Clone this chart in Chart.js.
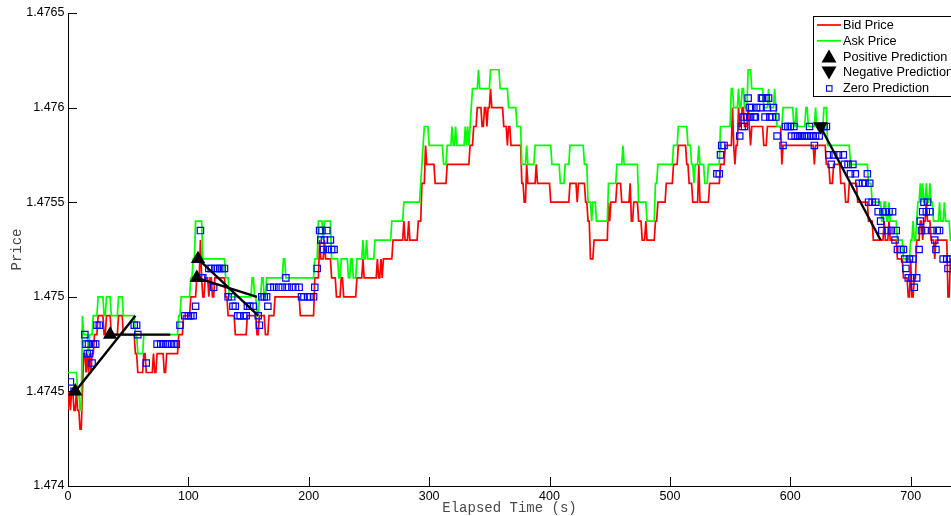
<!DOCTYPE html>
<html>
<head>
<meta charset="utf-8">
<title>Bid / Ask Price with Predictions</title>
<script src="https://cdn.jsdelivr.net/npm/chart.js@4.4.1/dist/chart.umd.min.js"></script>
<style>
  html, body { margin: 0; padding: 0; background: #ffffff; }
  canvas { display: block; }
</style>
</head>
<body>
<canvas id="c" width="951" height="516"></canvas>
<script>
// Bid quotes: [elapsed seconds at which the quote changes, new bid price]
const bidQuotes = [
  [0,1.4744],[1,1.4745],[2,1.4744],[3,1.4745],[5,1.4744],[7,1.4745],[8,1.4744],[10,1.4743],[12,1.4745],[13,1.4747],
  [15,1.4746],[16,1.4747],[17,1.4746],[18,1.4747],[19,1.4746],[20,1.4747],[22,1.4748],[25,1.4749],[30,1.4748],[32,1.4749],
  [36,1.4748],[42,1.4749],[46,1.4748],[56,1.4747],[58,1.4746],[63,1.4747],[65,1.4746],[71,1.4747],[72,1.4746],[74,1.4747],
  [80,1.4746],[82,1.4747],[92,1.4748],[96,1.4749],[102,1.4750],[107,1.4751],[110,1.4753],[111,1.4751],[112,1.4750],[114,1.4751],
  [117,1.4750],[118,1.4751],[120,1.4750],[122,1.4751],[131,1.4750],[133,1.4749],[139,1.4748],[149,1.4749],[157,1.4748],[159,1.4749],
  [164,1.4748],[167,1.4749],[172,1.4750],[193,1.4749],[205,1.4751],[209,1.4753],[210,1.4752],[213,1.4753],[214,1.4752],[219,1.4751],
  [223,1.4750],[227,1.4751],[229,1.4750],[240,1.4751],[245,1.4752],[246,1.4751],[257,1.4752],[258,1.4751],[260,1.4752],[261,1.4751],
  [262,1.4752],[270,1.4753],[279,1.4754],[280,1.4753],[283,1.4754],[284,1.4753],[291,1.4754],[294,1.4756],[297,1.4758],[298,1.4757],
  [305,1.4756],[315,1.4757],[334,1.4758],[337,1.4759],[340,1.4760],[344,1.4759],[346,1.4760],[348,1.4759],[349,1.4760],[351,1.4761],
  [352,1.4760],[362,1.4759],[365,1.4758],[366,1.4759],[368,1.4758],[377,1.4756],[379,1.4755],[381,1.4757],[382,1.4756],[389,1.4757],
  [390,1.4756],[401,1.4755],[417,1.4756],[423,1.4755],[424,1.4756],[430,1.4755],[432,1.4754],[434,1.4752],[437,1.4753],[449,1.4755],
  [450,1.4754],[451,1.4755],[456,1.4756],[460,1.4755],[467,1.4756],[468,1.4754],[470,1.4755],[474,1.4754],[477,1.4753],[480,1.4754],
  [481,1.4753],[488,1.4754],[490,1.4755],[497,1.4756],[503,1.4757],[507,1.4758],[514,1.4757],[516,1.4756],[519,1.4755],[524,1.4757],
  [525,1.4755],[533,1.4756],[542,1.4757],[546,1.4758],[552,1.4760],[553,1.4758],[554,1.4757],[555,1.4758],[557,1.4760],[558,1.4759],
  [560,1.4760],[562,1.4759],[565,1.4760],[566,1.4759],[567,1.4758],[568,1.4759],[578,1.4758],[581,1.4759],[593,1.4757],[594,1.4758],
  [620,1.4757],[621,1.4758],[630,1.4757],[633,1.4756],[636,1.4757],[642,1.4756],[646,1.4755],[649,1.4756],[656,1.4755],[665,1.4754],
  [669,1.4753],[678,1.4754],[679,1.4753],[682,1.4754],[683,1.4753],[689,1.4752],[694,1.4751],[698,1.4750],[700,1.4752],[701,1.4750],
  [703,1.4751],[705,1.4753],[708,1.4754],[710,1.4753],[711,1.4754],[713,1.4755],[714,1.4754],[717,1.4753],[720,1.4752],[721,1.4753],
  [731,1.4750],[733,1.4752]
];

// Ask quotes: [elapsed seconds at which the quote changes, new ask price]
const askQuotes = [
  [0,1.4746],[8,1.4745],[10,1.4744],[12,1.4749],[13,1.4748],[17,1.4747],[18,1.4748],[21,1.4749],[25,1.4750],[30,1.4749],
  [32,1.4750],[36,1.4749],[42,1.4750],[46,1.4749],[56,1.4748],[58,1.4747],[63,1.4748],[92,1.4749],[94,1.4750],[102,1.4751],
  [104,1.4752],[106,1.4754],[112,1.4752],[131,1.4751],[134,1.4750],[153,1.4751],[155,1.4750],[157,1.4749],[159,1.4750],[161,1.4751],
  [163,1.4750],[165,1.4751],[179,1.4752],[181,1.4751],[205,1.4752],[208,1.4754],[212,1.4753],[213,1.4754],[219,1.4752],[225,1.4751],
  [227,1.4752],[233,1.4751],[235,1.4752],[237,1.4751],[240,1.4752],[245,1.4753],[246,1.4752],[248,1.4753],[249,1.4752],[255,1.4753],
  [269,1.4754],[279,1.4755],[293,1.4756],[294,1.4757],[295,1.4758],[296,1.4759],[300,1.4758],[312,1.4757],[315,1.4758],[319,1.4759],
  [320,1.4758],[322,1.4759],[323,1.4758],[330,1.4759],[331,1.4758],[332,1.4759],[333,1.4758],[334,1.4759],[335,1.4760],[336,1.4761],
  [341,1.4762],[342,1.4761],[351,1.4762],[359,1.4761],[366,1.4760],[373,1.4759],[377,1.4757],[381,1.4758],[382,1.4757],[388,1.4758],
  [402,1.4757],[409,1.4756],[413,1.4757],[417,1.4758],[429,1.4757],[432,1.4755],[435,1.4754],[436,1.4755],[439,1.4754],[449,1.4756],
  [456,1.4757],[461,1.4758],[462,1.4757],[474,1.4755],[481,1.4754],[488,1.4756],[490,1.4757],[503,1.4758],[507,1.4759],[515,1.4758],
  [518,1.4757],[520,1.4756],[521,1.4757],[524,1.4758],[525,1.4757],[529,1.4756],[532,1.4757],[542,1.4759],[551,1.4761],[553,1.4760],
  [557,1.4761],[558,1.4760],[560,1.4761],[562,1.4760],[565,1.4762],[568,1.4761],[578,1.4760],[582,1.4761],[583,1.4760],[587,1.4761],
  [588,1.4760],[589,1.4759],[594,1.4760],[603,1.4759],[605,1.4760],[606,1.4759],[613,1.4760],[615,1.4759],[621,1.4760],[622,1.4759],
  [628,1.4760],[631,1.4758],[650,1.4757],[665,1.4756],[668,1.4755],[676,1.4754],[678,1.4755],[680,1.4754],[682,1.4755],[683,1.4754],
  [689,1.4753],[694,1.4752],[700,1.4753],[702,1.4754],[703,1.4753],[705,1.4754],[706,1.4755],[708,1.4756],[709,1.4755],[710,1.4756],
  [711,1.4755],[713,1.4756],[714,1.4755],[716,1.4756],[717,1.4755],[719,1.4754],[724,1.4755],[725,1.4754],[728,1.4755],[729,1.4754],
  [733,1.4753]
];

// Predictions that expect a rise: [issue time, price at issue, price 50 s later]
const positivePredictions = [
  [6, 1.4745, 1.4749],
  [35, 1.4748, 1.4748],
  [107, 1.4751, 1.4750],
  [108, 1.4752, 1.4749]
];

// Predictions that expect a fall: [issue time, price at issue, price 50 s later]
const negativePredictions = [
  [625, 1.4759, 1.4753]
];
const predictionHorizon = 50;

// Predictions of no change: [time, mid price]
const zeroPredictions = [
  [2,1.47455],[5,1.4745],[14,1.4748],[15,1.47475],[16,1.4747],[17,1.47475],[18,1.4747],[20,1.47465],[21,1.47475],[23,1.47475],
  [24,1.47485],[26,1.47485],[55,1.47485],[57,1.47485],[58,1.4748],[65,1.47465],[74,1.47475],[77,1.47475],[79,1.47475],[81,1.47475],
  [83,1.47475],[86,1.47475],[88,1.47475],[90,1.47475],[93,1.47485],[97,1.4749],[100,1.4749],[102,1.4749],[104,1.4749],[106,1.47495],
  [110,1.47535],[111,1.4751],[112,1.4751],[117,1.47515],[119,1.47515],[121,1.47505],[122,1.47515],[124,1.47515],[126,1.47515],[128,1.47515],
  [130,1.47515],[133,1.475],[136,1.475],[137,1.47495],[139,1.47495],[141,1.4749],[143,1.4749],[146,1.4749],[148,1.4749],[149,1.47495],
  [151,1.47495],[154,1.47495],[158,1.4749],[159,1.47485],[161,1.475],[163,1.475],[165,1.475],[166,1.47495],[168,1.47505],[171,1.47505],
  [175,1.47505],[178,1.47505],[181,1.4751],[182,1.47505],[186,1.47505],[189,1.47505],[192,1.47505],[194,1.475],[196,1.475],[199,1.475],
  [201,1.475],[204,1.475],[205,1.47505],[207,1.47515],[209,1.47535],[210,1.4753],[211,1.47535],[212,1.47525],[213,1.4753],[215,1.47535],
  [216,1.47525],[218,1.4753],[219,1.47525],[221,1.47525],
  [539,1.47565],[541,1.47565],[542,1.47575],[543,1.4758],[545,1.4758],[558,1.47585],[560,1.4759],[561,1.47595],[562,1.4759],[564,1.47595],
  [565,1.47605],[566,1.476],[567,1.47595],[568,1.476],[570,1.47595],[571,1.47595],[572,1.476],[575,1.476],[576,1.47605],[577,1.47605],
  [579,1.47595],[580,1.47605],[581,1.476],[582,1.47605],[583,1.47595],[585,1.47595],[586,1.476],[588,1.47595],[589,1.47585],[594,1.4758],
  [596,1.4759],[598,1.4759],[600,1.4759],[601,1.47585],[603,1.4759],[604,1.47585],[606,1.47585],[608,1.47585],[610,1.47585],[612,1.47585],
  [614,1.47585],[616,1.4759],[617,1.47585],[619,1.47585],[620,1.4758],[621,1.47585],[624,1.47585],[626,1.4759],[628,1.4759],[630,1.4759],
  [632,1.47575],[634,1.4757],[636,1.47575],[640,1.47575],[644,1.47575],[645,1.4757],[648,1.4757],[650,1.47565],[652,1.4757],[654,1.47565],
  [657,1.4756],[660,1.4756],[662,1.4756],[664,1.47565],[666,1.4756],[665,1.4755],[668,1.4755],[671,1.4755],[673,1.47545],[675,1.4754],
  [676,1.47535],[677,1.47545],[679,1.47545],[681,1.47535],[682,1.47545],[684,1.47535],[685,1.47545],[687,1.4753],[688,1.47535],[689,1.47525],
  [692,1.47525],[694,1.47525],[695,1.4752],[696,1.47515],[698,1.4751],[699,1.4752],[701,1.4751],[702,1.4752],[703,1.47505],[705,1.4751],
  [707,1.47525],[708,1.4754],[709,1.47535],[710,1.47545],[711,1.4755],[712,1.47535],[713,1.47545],[714,1.4755],[716,1.47545],[718,1.47535],
  [720,1.4753],[721,1.47525],[722,1.47535],[724,1.47535],[727,1.4752],[730,1.4752],[731,1.47515],[733,1.4752]
];

const sessionEnd = 736;
const xTicks = [0, 100, 200, 300, 400, 500, 600, 700];
const yTicks = [1.474, 1.4745, 1.475, 1.4755, 1.476, 1.4765];
const yTickLabels = ['1.474', '1.4745', '1.475', '1.4755', '1.476', '1.4765'];

// Quotes are sampled once a second: each quote holds until one second
// before the next change, then the line moves to the new level.
function quotePoints(quotes, tEnd) {
  const pts = [];
  quotes.forEach(([t, p], i) => {
    const next = i + 1 < quotes.length ? quotes[i + 1][0] - 1 : tEnd;
    pts.push({ x: t, y: p });
    if (next > t) pts.push({ x: next, y: p });
  });
  return pts;
}

const SANS = '"Liberation Sans", Arial, Helvetica, sans-serif';
const MONO = '"Liberation Mono", "Courier New", Courier, monospace';

const datasets = [
  { label: 'Bid Price', data: quotePoints(bidQuotes, sessionEnd), borderColor: '#ff0000',
    borderWidth: 1.7, pointRadius: 0, tension: 0, order: 6, legendKind: 'line' },
  { label: 'Ask Price', data: quotePoints(askQuotes, sessionEnd), borderColor: '#00ff00',
    borderWidth: 1.7, pointRadius: 0, tension: 0, order: 5, legendKind: 'line' },
  { label: 'Zero Prediction', data: zeroPredictions.map(([t, p]) => ({ x: t, y: p })),
    showLine: false, pointStyle: 'rect', pointRadius: 4.5, borderColor: '#0000ff',
    backgroundColor: 'rgba(0,0,0,0)', pointBorderWidth: 1.2, order: 4, legendKind: 'square' }
];

// One black segment per prediction, from issue to horizon
positivePredictions.concat(negativePredictions).forEach(([t, p0, p1]) => {
  datasets.push({ data: [{ x: t, y: p0 }, { x: t + predictionHorizon, y: p1 }],
    borderColor: '#000000', borderWidth: 2.4, pointRadius: 0, tension: 0, order: 3 });
});

datasets.push({ label: 'Positive Prediction',
  data: positivePredictions.map(([t, p]) => ({ x: t, y: p })),
  showLine: false, pointStyle: 'triangle', pointRadius: 8.3, pointRotation: 0,
  backgroundColor: '#000000', borderColor: '#000000', pointBorderWidth: 0, order: 1, legendKind: 'up' });
datasets.push({ label: 'Negative Prediction',
  data: negativePredictions.map(([t, p]) => ({ x: t, y: p })),
  showLine: false, pointStyle: 'triangle', pointRadius: 8.3, pointRotation: 180,
  backgroundColor: '#000000', borderColor: '#000000', pointBorderWidth: 0, order: 1, legendKind: 'down' });

// Tick marks drawn inward from both axes
const innerTicks = {
  id: 'innerTicks',
  afterDatasetsDraw(chart) {
    const { ctx, chartArea, scales } = chart;
    const len = 9;
    ctx.save();
    ctx.strokeStyle = '#000000';
    ctx.lineWidth = 1;
    ctx.beginPath();
    scales.x.ticks.forEach(t => {
      const px = Math.round(scales.x.getPixelForValue(t.value)) + 0.5;
      ctx.moveTo(px, chartArea.bottom);
      ctx.lineTo(px, chartArea.bottom - len);
    });
    scales.y.ticks.forEach(t => {
      const py = Math.round(scales.y.getPixelForValue(t.value)) + 0.5;
      ctx.moveTo(chartArea.left, py);
      ctx.lineTo(chartArea.left + len, py);
    });
    ctx.stroke();
    ctx.restore();
  }
};

// Boxed legend in the upper right corner of the plot
const boxLegend = {
  id: 'boxLegend',
  afterDraw(chart) {
    const { ctx } = chart;
    const items = ['Bid Price', 'Ask Price', 'Positive Prediction', 'Negative Prediction', 'Zero Prediction']
      .map(name => chart.data.datasets.find(d => d.label === name));
    const left = 813, top = 16, bottom = 96, right = 990;
    const rowTop = 25, rowStep = 15.8;
    const symX = 829, textX = 843;
    ctx.save();
    ctx.fillStyle = '#ffffff';
    ctx.fillRect(left, top, right - left, bottom - top);
    ctx.strokeStyle = '#000000';
    ctx.lineWidth = 1;
    ctx.strokeRect(left + 0.5, top + 0.5, right - left, bottom - top);
    ctx.font = '12.7px ' + SANS;
    ctx.textBaseline = 'middle';
    ctx.textAlign = 'left';
    items.forEach((d, i) => {
      const y = rowTop + i * rowStep;
      if (d.legendKind === 'line') {
        ctx.strokeStyle = d.borderColor;
        ctx.lineWidth = d.borderWidth;
        ctx.beginPath();
        ctx.moveTo(817, y);
        ctx.lineTo(841, y);
        ctx.stroke();
      } else if (d.legendKind === 'up' || d.legendKind === 'down') {
        const s = d.legendKind === 'up' ? 1 : -1;
        ctx.fillStyle = '#000000';
        ctx.beginPath();
        ctx.moveTo(symX, y - s * 7);
        ctx.lineTo(symX + 7.5, y + s * 6);
        ctx.lineTo(symX - 7.5, y + s * 6);
        ctx.closePath();
        ctx.fill();
      } else {
        ctx.strokeStyle = d.borderColor;
        ctx.lineWidth = 1.1;
        ctx.strokeRect(symX - 2.5, y - 2.5, 5.5, 5.5);
      }
      ctx.fillStyle = '#000000';
      ctx.fillText(d.label, textX, y + 0.5);
    });
    ctx.restore();
  }
};

new Chart(document.getElementById('c'), {
  type: 'line',
  data: { datasets },
  options: {
    responsive: false,
    animation: false,
    parsing: false,
    normalized: true,
    events: [],
    layout: { autoPadding: false, padding: { top: 13, right: 0, bottom: 0, left: 0 } },
    plugins: { legend: { display: false }, tooltip: { enabled: false }, title: { display: false } },
    scales: {
      x: {
        type: 'linear',
        min: 0,
        max: 733.5,
        afterBuildTicks: s => { s.ticks = xTicks.map(v => ({ value: v })); },
        afterFit: s => { s.height = 30; s.paddingLeft = 0; s.paddingRight = 0; },
        grid: { display: false, drawTicks: false },
        border: { display: true, color: '#000000', width: 1 },
        ticks: {
          autoSkip: false, maxRotation: 0, padding: 3.5, color: '#000000',
          font: { family: SANS, size: 12.5 },
          callback: v => String(v)
        },
        title: {
          display: true, text: 'Elapsed Time (s)', color: '#4a4a4a',
          font: { family: MONO, size: 14, lineHeight: 1 }, padding: { top: 0, bottom: 1 }
        }
      },
      y: {
        type: 'linear',
        min: 1.474,
        max: 1.4765,
        afterBuildTicks: s => { s.ticks = yTicks.map(v => ({ value: v })); },
        afterFit: s => { s.width = 68; },
        grid: { display: false, drawTicks: false },
        border: { display: true, color: '#000000', width: 1 },
        ticks: {
          autoSkip: false, padding: 3.5, color: '#000000',
          font: { family: SANS, size: 12.5 },
          callback: (v, i) => yTickLabels[i]
        },
        title: {
          display: true, text: 'Price', color: '#4a4a4a',
          font: { family: MONO, size: 14, lineHeight: 1 }, padding: { top: 10, bottom: 0 }
        }
      }
    }
  },
  plugins: [innerTicks, boxLegend]
});
</script>
</body>
</html>
